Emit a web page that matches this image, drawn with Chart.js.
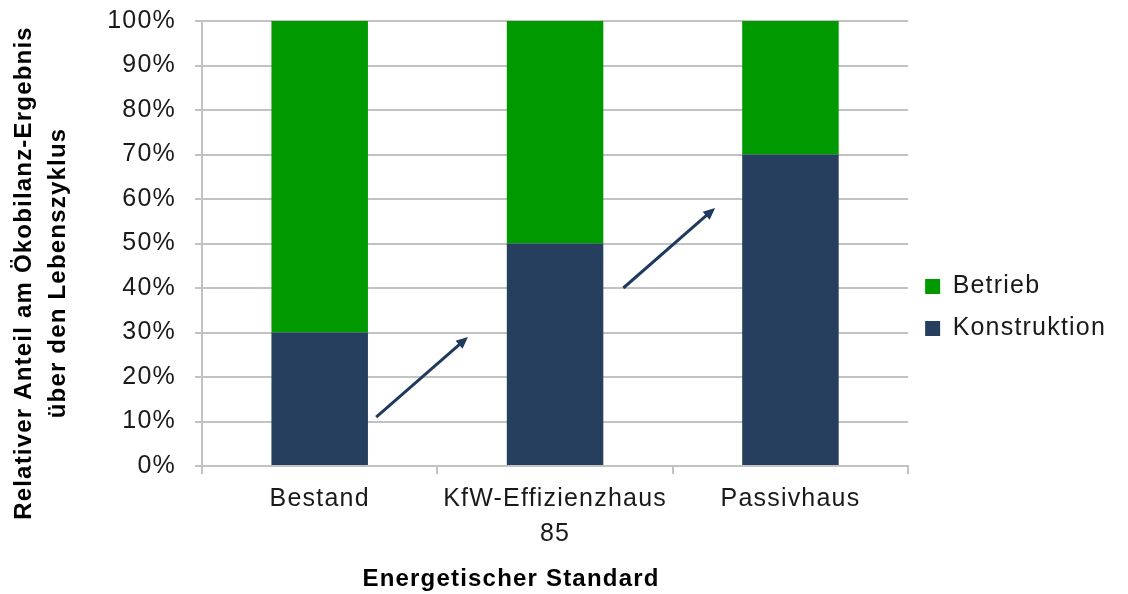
<!DOCTYPE html>
<html>
<head>
<meta charset="utf-8">
<script src="https://cdn.jsdelivr.net/npm/chart.js@4/dist/chart.umd.min.js"></script>
<style>
  html, body { margin: 0; padding: 0; background: #fff; }
  #wrap { width: 1128px; height: 594px; }
</style>
</head>
<body>
<div id="wrap"><canvas id="lcaChart" width="1128" height="594"></canvas></div>
<script>
// Anteile am Ökobilanz-Ergebnis je Standard (in %)
const categories = ['Bestand', ['KfW-Effizienzhaus', '85'], 'Passivhaus'];
const konstruktion = [30, 50, 70];
const betrieb = [70, 50, 30];
const yTicks = [0, 10, 20, 30, 40, 50, 60, 70, 80, 90, 100];

// Achsentitel
const yTitleLines = ['Relativer Anteil am Ökobilanz-Ergebnis', 'über den Lebenszyklus'];
const xTitle = 'Energetischer Standard';

// Pfeile zwischen den Säulen: [x (Kategorie-Index), y (%)]
const arrowFrom = [[0.24, 11], [1.29, 40]];
const arrowTo = [[0.63, 29], [1.68, 58]];

const FONT = '"Liberation Sans", Arial, sans-serif';
const NAVY = '#263f5f';
const GREEN = '#009a00';
const GRID = '#c2c2c2';
const SPACING = '1.2px';

// etwas breitere Laufweite für alle Texte
const spacingPlugin = {
    id: 'letterSpacing',
    beforeUpdate(chart) { chart.ctx.letterSpacing = SPACING; },
    beforeDraw(chart) { chart.ctx.letterSpacing = SPACING; }
};

const arrowPlugin = {
    id: 'arrows',
    afterDatasetsDraw(chart) {
        const { ctx, scales: { x, y } } = chart;
        ctx.save();
        ctx.strokeStyle = '#1f3a5c';
        ctx.fillStyle = '#1f3a5c';
        ctx.lineWidth = 3;
        arrowFrom.forEach((from, i) => {
            const to = arrowTo[i];
            const x1 = x.getPixelForValue(from[0]), y1 = y.getPixelForValue(from[1]);
            const x2 = x.getPixelForValue(to[0]), y2 = y.getPixelForValue(to[1]);
            const ang = Math.atan2(y2 - y1, x2 - x1);
            const head = 13, spread = 0.42;
            const bx = x2 - head * 0.8 * Math.cos(ang), by = y2 - head * 0.8 * Math.sin(ang);
            ctx.beginPath();
            ctx.moveTo(x1, y1);
            ctx.lineTo(bx, by);
            ctx.stroke();
            ctx.beginPath();
            ctx.moveTo(x2, y2);
            ctx.lineTo(x2 - head * Math.cos(ang - spread), y2 - head * Math.sin(ang - spread));
            ctx.lineTo(x2 - head * Math.cos(ang + spread), y2 - head * Math.sin(ang + spread));
            ctx.closePath();
            ctx.fill();
        });
        ctx.restore();
    }
};

// Achsentitel, nicht mittig zur Zeichenfläche gesetzt
const axisTitlePlugin = {
    id: 'axisTitles',
    afterDraw(chart) {
        const { ctx } = chart;
        ctx.save();
        ctx.letterSpacing = SPACING;
        ctx.fillStyle = '#000';
        ctx.font = 'bold 24px ' + FONT;
        ctx.textAlign = 'center';
        ctx.textBaseline = 'middle';
        ctx.fillText(xTitle, 511, 579);

        ctx.translate(0, 273);
        ctx.rotate(-Math.PI / 2);
        yTitleLines.forEach((line, i) => {
            ctx.fillText(line, 0, 24 + i * 34);
        });
        ctx.restore();
    }
};

new Chart(document.getElementById('lcaChart'), {
    type: 'bar',
    data: {
        labels: categories,
        datasets: [
            { label: 'Konstruktion', data: konstruktion, backgroundColor: NAVY },
            { label: 'Betrieb', data: betrieb, backgroundColor: GREEN }
        ]
    },
    options: {
        responsive: false,
        animation: false,
        layout: { padding: { top: 21, right: 12, bottom: 0, left: 0 } },
        datasets: { bar: { categoryPercentage: 1, barPercentage: 0.41 } },
        plugins: {
            tooltip: { enabled: false },
            legend: {
                position: 'right',
                reverse: true,
                labels: {
                    font: { family: FONT, size: 25 },
                    color: '#1a1a1a',
                    boxWidth: 15,
                    boxHeight: 15,
                    padding: 17
                }
            }
        },
        scales: {
            x: {
                stacked: true,
                grid: { display: true, drawOnChartArea: false, drawTicks: true, tickLength: 8, color: GRID, lineWidth: 2, offset: true },
                border: { color: GRID, width: 2 },
                ticks: { font: { family: FONT, size: 25, lineHeight: 1.4 }, color: '#1a1a1a', padding: 8 },
                afterFit(scale) { scale.height = 128; }
            },
            y: {
                stacked: true,
                min: 0,
                max: 100,
                afterBuildTicks(scale) { scale.ticks = yTicks.map(v => ({ value: v })); },
                grid: { color: GRID, lineWidth: 2, tickLength: 7 },
                border: { color: GRID, width: 2 },
                ticks: {
                    font: { family: FONT, size: 25 },
                    color: '#1a1a1a',
                    padding: 19,
                    callback: v => v + '%'
                },
                afterFit(scale) {
                    scale.width = 202;
                    scale.paddingTop = 0;
                    scale.paddingBottom = 0;
                }
            }
        }
    },
    plugins: [spacingPlugin, arrowPlugin, axisTitlePlugin]
});
</script>
</body>
</html>
